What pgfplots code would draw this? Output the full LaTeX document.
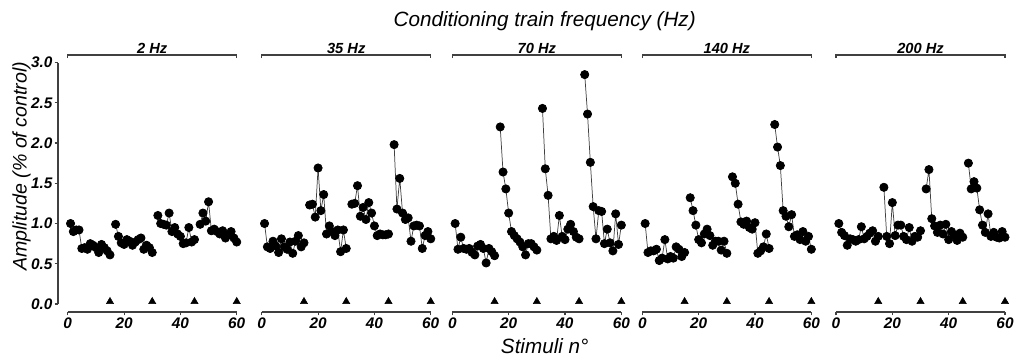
\documentclass[border=0pt]{standalone}
\usepackage{fontspec}
\setmainfont{Liberation Sans}
\usepackage{pgfplots}
\usepackage{pgfplotstable}
\pgfplotsset{compat=1.18}
\definecolor{axisgray}{gray}{0.25}

% x = stimulus number; a..e = 2, 35, 70, 140, 200 Hz
\pgfplotstableread{
x a b c d e
1 1.00 1.00 1.00 1.00 1.00
2 0.90 0.71 0.68 0.64 0.89
3 0.92 0.69 0.83 0.66 0.85
4 0.92 0.78 0.69 0.66 0.73
5 0.69 0.72 0.68 0.68 0.81
6 0.70 0.64 0.69 0.54 0.80
7 0.68 0.81 0.64 0.57 0.78
8 0.75 0.71 0.61 0.80 0.80
9 0.73 0.68 0.72 0.56 0.96
10 0.70 0.77 0.74 0.59 0.81
11 0.64 0.63 0.69 0.57 0.84
12 0.74 0.78 0.51 0.71 0.88
13 0.70 0.85 0.69 0.68 0.91
14 0.66 0.71 0.65 0.59 0.78
15 0.61 0.76 0.60 0.64 0.84
16 nan nan nan nan nan
17 0.99 1.23 2.20 1.32 1.45
18 0.84 1.24 1.64 1.16 0.84
19 0.76 1.08 1.43 0.98 0.75
20 0.74 1.69 1.13 0.80 1.26
21 0.80 1.16 0.90 0.76 0.85
22 0.78 1.36 0.85 0.87 0.98
23 0.73 0.87 0.81 0.93 0.98
24 0.77 0.97 0.77 0.85 0.84
25 0.80 0.90 0.71 0.73 0.80
26 0.82 0.85 0.61 0.78 0.95
27 0.68 0.92 0.75 0.78 0.78
28 0.73 0.65 0.75 0.67 0.84
29 0.70 0.92 0.71 0.78 0.83
30 0.64 0.69 0.67 0.63 0.91
31 nan nan nan nan nan
32 1.10 1.24 2.43 1.58 1.43
33 1.00 1.25 1.68 1.50 1.67
34 0.99 1.47 1.35 1.24 1.06
35 0.98 1.09 0.81 1.02 0.97
36 1.13 1.20 0.84 0.99 0.89
37 0.90 1.05 0.79 1.03 0.98
38 0.95 1.26 1.10 0.95 0.87
39 0.87 1.13 0.84 0.93 0.99
40 0.84 0.97 0.80 1.01 0.80
41 0.75 0.85 0.93 0.63 0.90
42 0.76 0.87 0.99 0.66 0.85
43 0.95 0.86 0.90 0.71 0.79
44 0.77 0.86 0.83 0.87 0.88
45 0.80 0.87 0.81 0.69 0.83
46 nan nan nan nan nan
47 0.99 1.98 2.85 2.23 1.75
48 1.13 1.18 2.36 1.95 1.43
49 1.03 1.56 1.76 1.72 1.52
50 1.27 1.13 1.21 1.16 1.44
51 0.91 1.05 0.81 1.09 1.17
52 0.93 1.07 1.16 0.96 0.98
53 0.90 0.78 1.15 1.11 0.89
54 0.87 0.97 0.75 0.84 1.12
55 0.91 0.98 0.93 0.86 0.84
56 0.82 0.97 0.76 0.80 0.89
57 0.86 0.69 0.66 0.90 0.83
58 0.90 0.85 1.12 0.78 0.82
59 0.82 0.90 0.74 0.84 0.90
60 0.77 0.81 0.98 0.68 0.83
}\datatable

\pgfplotstableread{
x y
15 0.03
30 0.03
45 0.03
60 0.03
}\trains

\pgfplotsset{
  panel/.style={
    scale only axis, width=126.75pt, height=181.1pt,
    xmin=0, xmax=60, ymin=0, ymax=3,
    axis x line*=bottom, axis x line shift=6pt,
    xtick={0,20,40,60},
    tick align=outside, major tick length=2.5pt,
    every tick/.style={axisgray, line width=0.8pt},
    axis line style={axisgray, line width=1.1pt},
    ticklabel style={font=\fontsize{11.5}{13.5}\selectfont\bfseries\itshape,
      /pgf/number format/assume math mode=true},
    xticklabel style={inner sep=2pt},
    clip=false,
    unbounded coords=jump,
  },
  noy/.style={axis y line=none, ytick=\empty},
  dataplot/.style={black!75, line width=0.55pt, mark=*, mark size=3.1pt,
    mark options={fill=black, draw=black, solid}},
  tri/.style={only marks, mark=triangle*, mark size=3.1pt,
    mark options={fill=black, draw=black}},
}
\newcommand{\bracket}[1]{%
  \draw[axisgray, line width=0.9pt] (axis cs:0,3.055) |- (axis cs:60,3.093) -- (axis cs:60,3.055);
  \node[anchor=south, inner sep=1pt, font=\fontsize{11}{13}\selectfont\bfseries\itshape] at (axis cs:30,3.093) {#1};
}

\begin{document}
\begin{tikzpicture}
\useasboundingbox (-50.8pt,-40.5pt) rectangle (709.7pt,228pt);

\begin{axis}[panel, at={(0pt,0pt)},
  axis y line*=left, axis y line shift=7.3pt,
  ytick={0,0.5,1,1.5,2,2.5,3},
  yticklabel style={inner sep=1.5pt, /pgf/number format/.cd, fixed, fixed zerofill, precision=1}]
  \addplot[dataplot] table[x=x, y=a] {\datatable};
  \addplot[tri] table[x=x, y=y] {\trains};
  \bracket{2 Hz}
  \node[rotate=90, font=\fontsize{14.7}{17}\selectfont\itshape] at (axis cs:-16.4,1.71) {Amplitude (\% of control)};
\end{axis}

\begin{axis}[panel, noy, at={(145.5pt,0pt)}]
  \addplot[dataplot] table[x=x, y=b] {\datatable};
  \addplot[tri] table[x=x, y=y] {\trains};
  \bracket{35 Hz}
\end{axis}

\begin{axis}[panel, noy, at={(288.45pt,0pt)}]
  \addplot[dataplot] table[x=x, y=c] {\datatable};
  \addplot[tri] table[x=x, y=y] {\trains};
  \bracket{70 Hz}
  \node[font=\fontsize{15.5}{18}\selectfont\itshape] at (axis cs:32.8,3.52) {Conditioning train frequency (Hz)};
  \node[font=\fontsize{15.5}{18}\selectfont\itshape] at (axis cs:32.8,-0.52) {Stimuli n°};
\end{axis}

\begin{axis}[panel, noy, at={(430.95pt,0pt)}]
  \addplot[dataplot] table[x=x, y=d] {\datatable};
  \addplot[tri] table[x=x, y=y] {\trains};
  \bracket{140 Hz}
\end{axis}

\begin{axis}[panel, noy, at={(576.2pt,0pt)}]
  \addplot[dataplot] table[x=x, y=e] {\datatable};
  \addplot[tri] table[x=x, y=y] {\trains};
  \bracket{200 Hz}
\end{axis}
\end{tikzpicture}
\end{document}
